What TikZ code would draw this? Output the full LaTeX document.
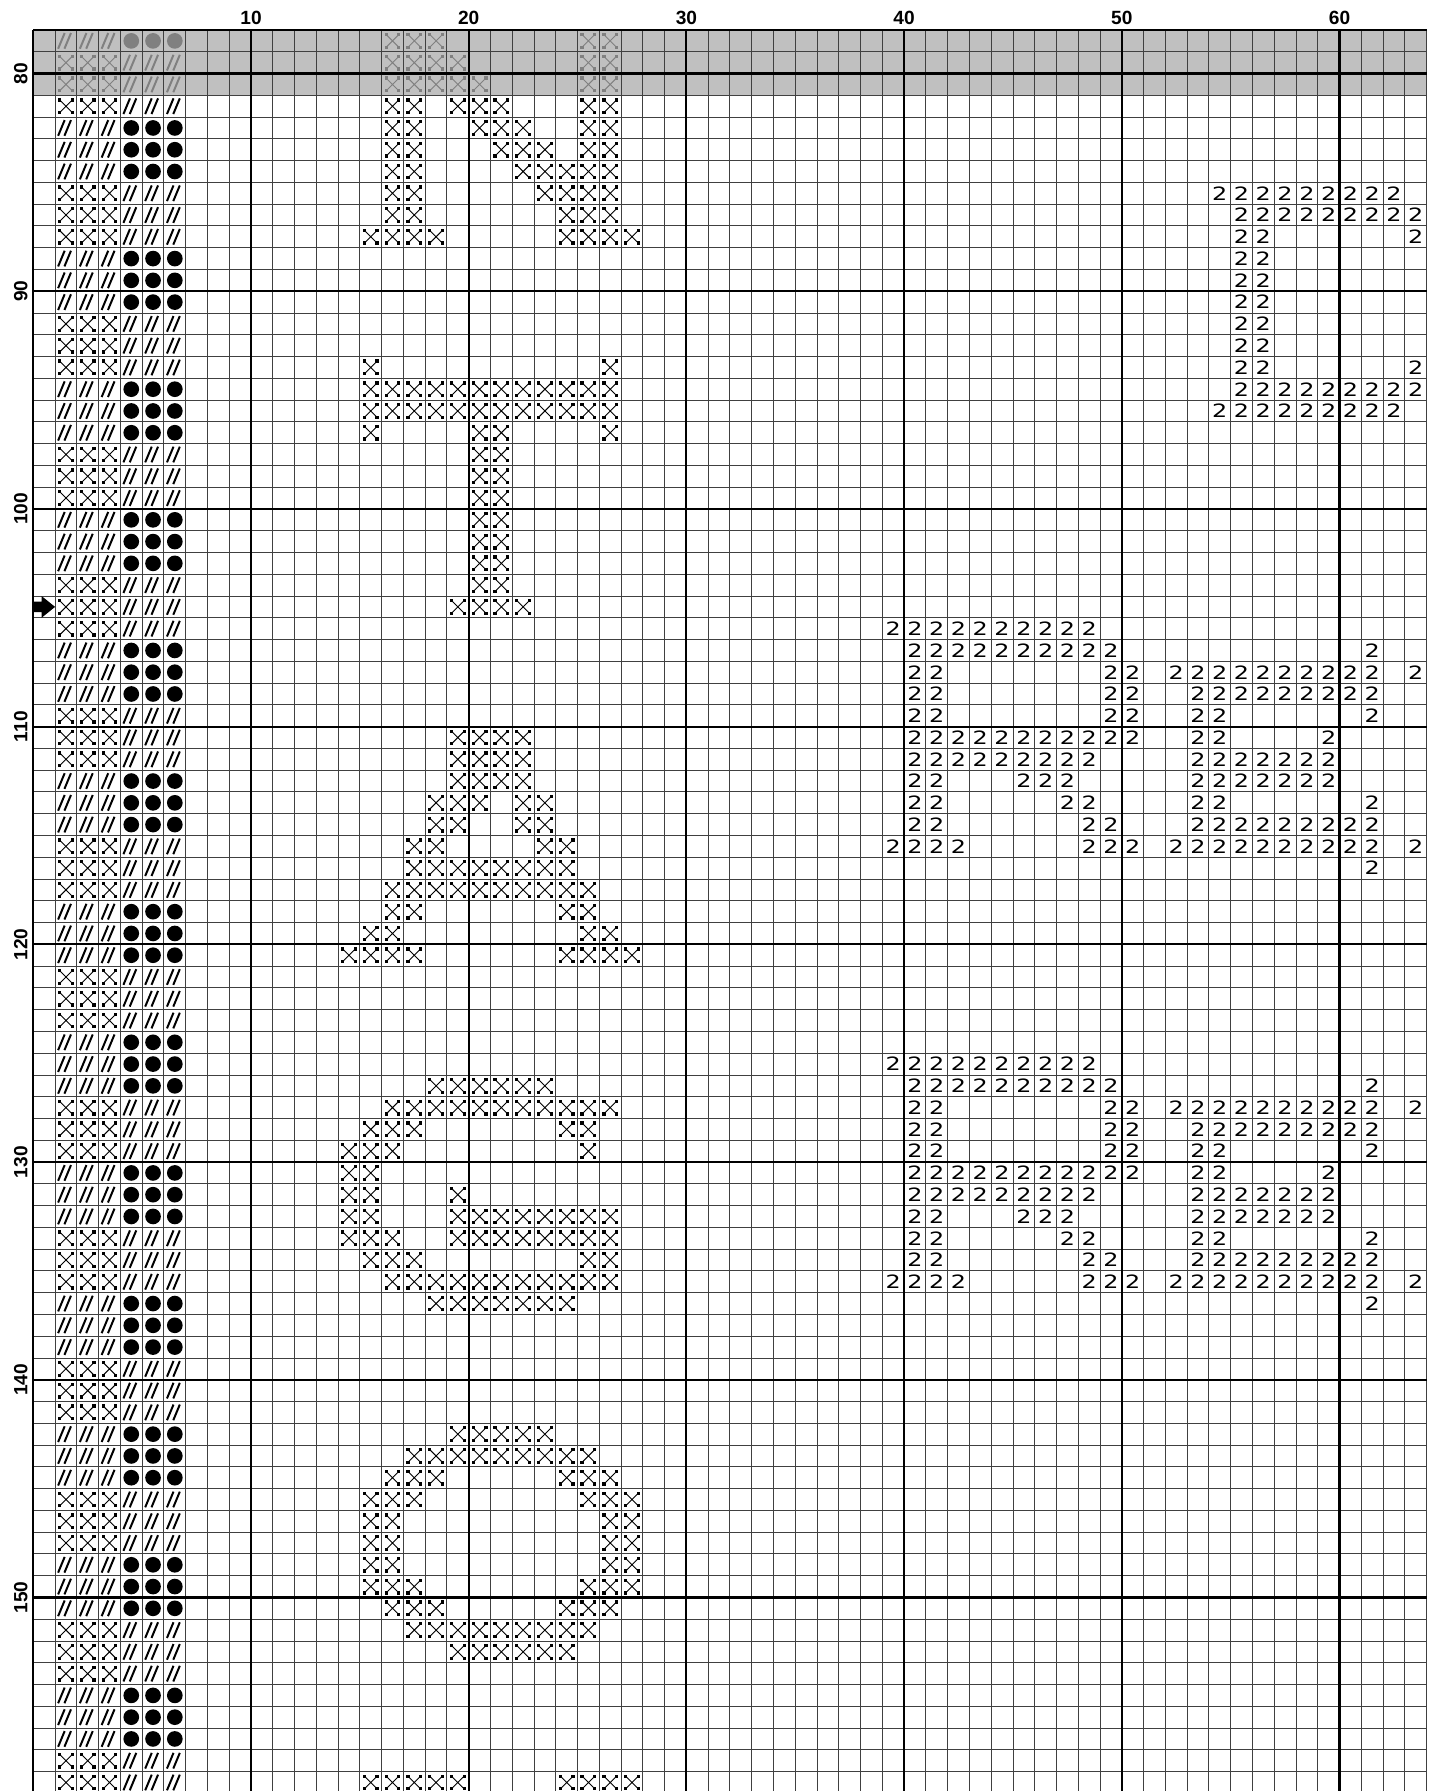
\documentclass[tikz,border=0pt]{standalone}
\usepackage{fontspec}
\setmainfont{Liberation Sans}
\newfontfamily\twofont{DejaVu Sans}
\definecolor{band}{RGB}{192,192,192}
\definecolor{ghost}{RGB}{128,128,128}
\colorlet{ink}{black}
\def\gx{1.53}
\def\gy{1.378}

\begin{document}
\begin{tikzpicture}[x=0.5cm, y=-0.5cm,
    thin grid/.style={line width=0.6pt, black!75},
    thick grid/.style={line width=1.4pt, black},
    num/.style={font=\fontsize{12.5}{12.5}\selectfont\bfseries, inner sep=0pt},
    stitchx/.pic={
      \draw[ink, line width=0.6pt] (0.2,0.2) -- (0.8,0.8) (0.2,0.8) -- (0.8,0.2);
      \foreach \u/\v in {0.21/0.21,0.79/0.21,0.21/0.79,0.79/0.79}
        \fill[ink] ({\u-0.075},{\v-0.075}) rectangle ({\u+0.075},{\v+0.075});
    },
    stitchsl/.pic={
      \draw[ink, line width=1.3pt] (0.14,0.86) -- (0.44,0.14) (0.43,0.86) -- (0.73,0.14);
    },
    stitchdot/.pic={\fill[ink] (0.5,0.5) circle (0.36);},
    stitchtwo/.pic={
      \node[ink, font=\twofont\fontsize{12}{12}\selectfont, xscale=1.3, inner sep=0pt] (glyph) at (0.5,0.5) {2};
    },
    rowmark/.pic={
      \fill (0,0.26) -- (0.38,0.26) -- (0.38,0) -- (1,0.5) -- (0.38,1) -- (0.38,0.74) -- (0,0.74) -- cycle;
    }]
\useasboundingbox (0,0) rectangle (65.87,82.27);

\begin{scope}
\clip (0,0) rectangle (65.87,82.27);
\fill[band] (\gx,\gy) rectangle ({\gx+64},{\gy+3});
\foreach \k in {0,...,64}
  \draw[thin grid] ({\gx+\k},\gy) -- ({\gx+\k},{\gy+81});
\foreach \k in {0,...,81}
  \draw[thin grid] (\gx,{\gy+\k}) -- ({\gx+64},{\gy+\k});
\foreach \k in {0,10,...,60}
  \draw[thick grid] ({\gx+\k},\gy) -- ({\gx+\k},{\gy+81});
\draw[thick grid] (\gx,\gy) -- ({\gx+64},\gy);
\foreach \k in {2,12,...,72}
  \draw[thick grid] (\gx,{\gy+\k}) -- ({\gx+64},{\gy+\k});

% border columns
\foreach \rr in {0,...,80}{
  \ifnum\rr<3 \colorlet{ink}{ghost}\fi
  \pgfmathtruncatemacro\ph{mod(\rr,6)}
  \ifnum\ph>0 \ifnum\ph<4 \def\leftsym{1}\else\def\leftsym{0}\fi \else \def\leftsym{0}\fi
  \ifnum\leftsym=1
    \foreach \cc in {2,3,4} \pic at ({\gx+\cc-1},{\gy+\rr}) {stitchx};
    \foreach \cc in {5,6,7} \pic at ({\gx+\cc-1},{\gy+\rr}) {stitchsl};
  \else
    \foreach \cc in {2,3,4} \pic at ({\gx+\cc-1},{\gy+\rr}) {stitchsl};
    \foreach \cc in {5,6,7} \pic at ({\gx+\cc-1},{\gy+\rr}) {stitchdot};
  \fi
}

% letters in cross stitch
\foreach \rr/\ca/\cb in {0/17/19, 0/26/27, 1/17/20, 1/26/27, 2/17/21, 2/26/27,
    3/17/18, 3/20/22, 3/26/27, 4/17/18, 4/21/23, 4/26/27, 5/17/18, 5/22/24, 5/26/27,
    6/17/18, 6/23/27, 7/17/18, 7/24/27, 8/17/18, 8/25/27, 9/16/19, 9/25/28,
    15/16/16, 15/27/27, 16/16/27, 17/16/27, 18/16/16, 18/21/22, 18/27/27,
    19/21/22, 20/21/22, 21/21/22, 22/21/22, 23/21/22, 24/21/22, 25/21/22, 26/20/23,
    32/20/23, 33/20/23, 34/20/23, 35/19/21, 35/23/24, 36/19/20, 36/23/24,
    37/18/19, 37/24/25, 38/18/25, 39/17/26, 40/17/18, 40/25/26, 41/16/17, 41/26/27,
    42/15/18, 42/25/28,
    48/19/24, 49/17/27, 50/16/18, 50/25/26, 51/15/17, 51/26/26, 52/15/16,
    53/15/16, 53/20/20, 54/15/16, 54/20/27, 55/15/17, 55/20/27, 56/16/18, 56/26/27,
    57/17/27, 58/19/25,
    64/20/24, 65/18/26, 66/17/19, 66/25/27, 67/16/18, 67/26/28, 68/16/17, 68/27/28,
    69/16/17, 69/27/28, 70/16/17, 70/27/28, 71/16/18, 71/26/28, 72/17/19, 72/25/27,
    73/18/26, 74/20/25, 80/16/20, 80/25/28}{
  \ifnum\rr<3 \colorlet{ink}{ghost}\fi
  \foreach \cc in {\ca,...,\cb}
    \pic at ({\gx+\cc-1},{\gy+\rr}) {stitchx};
}

% letters in backstitch symbol 2
\foreach \rr/\ca/\cb in {7/55/63, 8/56/64, 9/56/57, 9/64/64, 10/56/57, 11/56/57,
    12/56/57, 13/56/57, 14/56/57, 15/56/57, 15/64/64, 16/56/64, 17/55/63}
  \foreach \cc in {\ca,...,\cb}
    \pic at ({\gx+\cc-1},{\gy+\rr}) {stitchtwo};
\foreach \base in {27,47}
  \foreach \dd/\ca/\cb in {0/40/49, 1/41/50, 1/62/62, 2/41/42, 2/50/51, 2/53/62, 2/64/64,
      3/41/42, 3/50/51, 3/54/62, 4/41/42, 4/50/51, 4/54/55, 4/62/62,
      5/41/51, 5/54/55, 5/60/60, 6/41/49, 6/54/60, 7/41/42, 7/46/48, 7/54/60,
      8/41/42, 8/48/49, 8/54/55, 8/62/62, 9/41/42, 9/49/50, 9/54/62,
      10/40/43, 10/49/51, 10/53/62, 10/64/64, 11/62/62}
    \foreach \cc in {\ca,...,\cb}
      \pic at ({\gx+\cc-1},{\gy+\base+\dd}) {stitchtwo};

\pic at (\gx,{\gy+26}) {rowmark};
\end{scope}

\foreach \k in {1,...,6}
  \node[num] (col\k0) at ({\gx+10*\k},0.84) {\k0};
\foreach \k in {8,...,15}
  \node[num, rotate=90] (row\k0) at (0.96,{\gy+2+10*(\k-8)}) {\k0};
\end{tikzpicture}
\end{document}
